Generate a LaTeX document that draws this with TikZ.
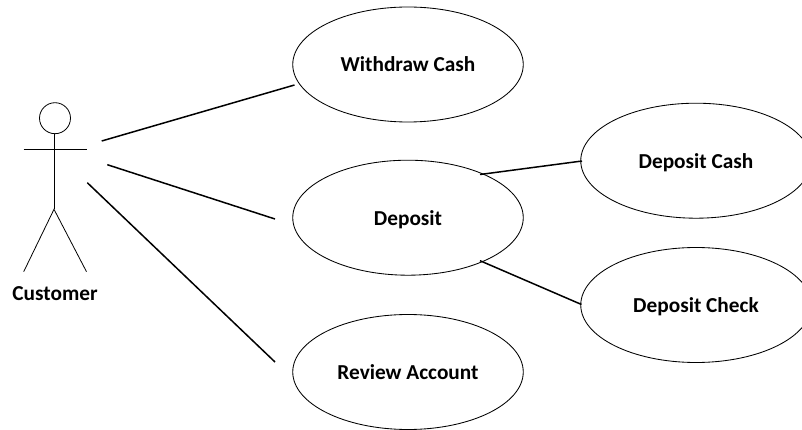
\documentclass[tikz,border=0pt]{standalone}
\usepackage{fontspec}
\setmainfont{Carlito}
\usetikzlibrary{shapes.geometric}
\tikzset{
 usecase/.style={ellipse,draw=black,line width=0.85pt,minimum width=230.5pt,minimum height=115pt,inner sep=0pt,text height=15pt,text depth=0pt,font=\fontsize{21.3pt}{24pt}\selectfont\bfseries},
 assoc/.style={draw=black,line width=1.5pt},
 limb/.style={draw=black,line width=0.8pt},
 lbl/.style={font=\fontsize{21.3pt}{24pt}\selectfont\bfseries,inner sep=0pt,text height=12.6pt,text depth=0pt}
}
\begin{document}
\begin{tikzpicture}[x=1pt,y=-1pt]
\useasboundingbox (0,0) rectangle (802,430);
\node[usecase] (w) at (408,64.5) {Withdraw Cash};
\node[usecase] (d) at (408,217.7) {Deposit};
\node[usecase] (r) at (408,372) {Review Account};
\node[usecase] (dc) at (696,160.7) {Deposit Cash};
\node[usecase] (dk) at (696,305) {Deposit Check};
\node[circle,draw=black,line width=0.8pt,minimum size=31pt,inner sep=0pt] (head) at (55,118.2) {};
\coordinate (armL) at (23.7,149);
\coordinate (armR) at (86.7,149);
\coordinate (neck) at (54,133.7);
\coordinate (hip) at (54,209.3);
\coordinate (footL) at (23.7,271.7);
\coordinate (footR) at (86.5,271.7);
\draw[limb] (neck) -- (hip);
\draw[limb] (armL) -- (armR);
\draw[limb] (footL) -- (hip) -- (footR);
\node[lbl] (cust) at (55,293.7) {Customer};
\coordinate (a1) at (101.7,141);
\coordinate (a2) at (107.3,164.7);
\coordinate (a3) at (87.3,182.7);
\coordinate (e1) at (294.5,85);
\coordinate (e2) at (275,219);
\coordinate (e3) at (275,362);
\draw[assoc] (a1) -- (e1);
\draw[assoc] (a2) -- (e2);
\draw[assoc] (a3) -- (e3);
\coordinate (f1) at (480,174.5);
\coordinate (f2) at (480,260.7);
\coordinate (g1) at (582,161);
\coordinate (g2) at (581.5,304.5);
\draw[assoc] (f1) -- (g1);
\draw[assoc] (f2) -- (g2);
\end{tikzpicture}
\end{document}
